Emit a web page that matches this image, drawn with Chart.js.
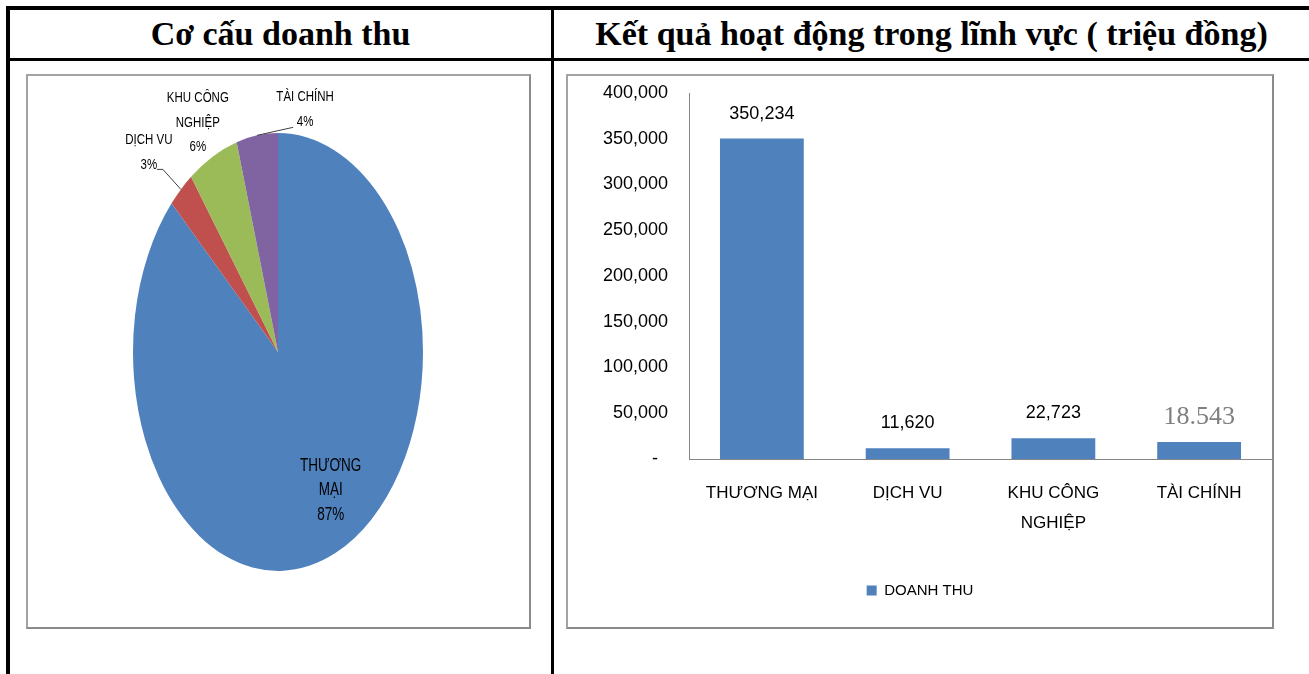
<!DOCTYPE html>
<html lang="vi">
<head>
<meta charset="utf-8">
<title>Cơ cấu doanh thu</title>
<script src="https://cdn.jsdelivr.net/npm/chart.js@4.4.1/dist/chart.umd.min.js"></script>
<style>
  html, body { margin: 0; padding: 0; background: #fff; }
  body { width: 1309px; height: 674px; position: relative; overflow: hidden; }
  .rule { position: absolute; background: #000; }
  .head {
    position: absolute; top: 10px; height: 48px;
    font: bold 34px 'Liberation Serif', 'Times New Roman', serif;
    line-height: 48px; text-align: center; white-space: nowrap; color: #000;
  }
  .frame {
    position: absolute; top: 74px; width: 0; height: 551px;
    border: 2px solid #a3a3a3; border-right-color: #8a8a8a; border-bottom-color: #8a8a8a;
    background: #fff;
  }
  .frame canvas { display: block; }
</style>
</head>
<body>

<!-- table lines -->
<div class="rule" style="left:6px; top:6px; width:1303px; height:4px"></div>
<div class="rule" style="left:6px; top:6px; width:4px; height:668px"></div>
<div class="rule" style="left:6px; top:58px; width:1303px; height:3px"></div>
<div class="rule" style="left:551px; top:6px; width:3px; height:668px"></div>

<div class="head" style="left:10px; width:541px">Cơ cấu doanh thu</div>
<div class="head" style="left:554px; width:755px">Kết quả hoạt động trong lĩnh vực ( triệu đồng)</div>

<div class="frame" style="left:26px; width:501px"><canvas id="pieChart"></canvas></div>
<div class="frame" style="left:566px; width:704px"><canvas id="barChart"></canvas></div>

<script>
// ============================================
//  Cơ cấu doanh thu + Kết quả hoạt động
// ============================================

// ── Data ─────────────────────────────────────
const sectors     = ['THƯƠNG MẠI', 'DỊCH VU', 'KHU CÔNG NGHIỆP', 'TÀI CHÍNH'];
const barLabels   = ['THƯƠNG MẠI', 'DỊCH VU', ['KHU CÔNG', 'NGHIỆP'], 'TÀI CHÍNH'];
const revenue     = [350234, 11620, 22723, 18543];            // triệu đồng
const revenueText = ['350,234', '11,620', '22,723', '18.543']; // as printed above the bars
const pieNames    = [['THƯƠNG', 'MẠI'], ['DỊCH VU'], ['KHU CÔNG', 'NGHIỆP'], ['TÀI CHÍNH']];
const piePercent  = ['87%', '3%', '6%', '4%'];
const seriesName  = 'DOANH THU';
const yMin = 0, yMax = 400000, yStep = 50000;

// ── Styles ───────────────────────────────────
const BLUE       = '#4f81bd';
const pieColors  = ['#4f81bd', '#c0504d', '#9bbb59', '#8064a2'];
const PIE_STRETCH = 1.51;          // the pie is drawn as a tall ellipse
const FONT = "'Liberation Sans', Arial, sans-serif";

// label placement relative to the middle of each slice's outer edge
const pieLabelStyle = [
  { rf: 0.7, dx: 12,  dy: -2,  size: 13.5 },
  { rf: 1,   dx: -32, dy: -37, size: 11.5, leader: [[14, 17], [8, 17]] },
  { rf: 1,   dx: -15, dy: -34, size: 11.5 },
  { rf: 1,   dx: 48,  dy: -26, size: 11.5, leader: [[-12, 18]] }
];

Chart.defaults.font.family = FONT;
Chart.defaults.color = '#000';
Chart.defaults.animation = false;

// squeeze the round pie into an ellipse while the arcs are painted
const ellipsePlugin = {
  id: 'ellipse',
  beforeDatasetsDraw(chart) {
    const { ctx, chartArea: a } = chart;
    const cx = (a.left + a.right) / 2, cy = (a.top + a.bottom) / 2;
    ctx.save();
    ctx.translate(cx, cy);
    ctx.scale(1, PIE_STRETCH);
    ctx.translate(-cx, -cy);
  },
  afterDatasetsDraw(chart) {
    chart.ctx.restore();
  }
};

// tall, narrow text like the original picture
function stretchedText(ctx, text, x, y, size) {
  ctx.save();
  ctx.translate(x, y);
  ctx.scale(1, 1.3);
  ctx.font = size + 'px ' + FONT;
  ctx.fillText(text, 0, 0);
  ctx.restore();
}

const pieLabelPlugin = {
  id: 'pieLabels',
  afterDraw(chart) {
    const ctx = chart.ctx;
    const arcs = chart.getDatasetMeta(0).data;
    ctx.save();
    ctx.fillStyle = '#000';
    ctx.strokeStyle = '#404040';
    ctx.lineWidth = 1;
    ctx.textAlign = 'center';
    ctx.textBaseline = 'middle';

    arcs.forEach((arc, i) => {
      const p   = arc.getProps(['x', 'y', 'startAngle', 'endAngle', 'outerRadius']);
      const st  = pieLabelStyle[i];
      const mid = (p.startAngle + p.endAngle) / 2;
      const ax  = p.x + Math.cos(mid) * p.outerRadius * st.rf;
      const ay  = p.y + Math.sin(mid) * p.outerRadius * st.rf * PIE_STRETCH;
      const cx  = ax + st.dx;
      const cy  = ay + st.dy;

      const lines = pieNames[i].concat(piePercent[i]);
      const step  = 24.5;
      const top   = cy - (lines.length - 1) * step / 2;
      lines.forEach((t, k) => stretchedText(ctx, t, cx, top + k * step, st.size));

      if (st.leader) {
        ctx.beginPath();
        ctx.moveTo(ax, ay);
        st.leader.forEach(([lx, ly]) => ctx.lineTo(cx + lx, cy + ly));
        ctx.stroke();
      }
    });
    ctx.restore();
  }
};

// value labels above the bars
const barValuePlugin = {
  id: 'barValues',
  afterDatasetsDraw(chart) {
    const ctx = chart.ctx;
    const bars = chart.getDatasetMeta(0).data;
    ctx.save();
    ctx.textAlign = 'center';
    ctx.textBaseline = 'middle';
    bars.forEach((bar, i) => {
      if (i === 3) {
        // this one was typed in a separate text box
        ctx.font = '26px "Liberation Serif", "Times New Roman", serif';
        ctx.fillStyle = '#7f7f7f';
      } else {
        ctx.font = '18px ' + FONT;
        ctx.fillStyle = '#000';
      }
      ctx.fillText(revenueText[i], bar.x, bar.y - 25);
    });
    ctx.restore();
  }
};

// ── Pie: Cơ cấu doanh thu ────────────────────
new Chart(document.getElementById('pieChart'), {
  type: 'pie',
  data: {
    labels: sectors,
    datasets: [{
      data: revenue,
      backgroundColor: pieColors,
      borderWidth: 0
    }]
  },
  options: {
    responsive: true,
    maintainAspectRatio: false,
    clip: false,
    layout: { padding: { left: 105, right: 106, top: 131, bottom: 130 } },
    plugins: {
      legend: { display: false },
      tooltip: { enabled: false }
    }
  },
  plugins: [ellipsePlugin, pieLabelPlugin]
});

// ── Bar: Kết quả hoạt động ───────────────────
new Chart(document.getElementById('barChart'), {
  type: 'bar',
  data: {
    labels: barLabels,
    datasets: [{
      label: seriesName,
      data: revenue,
      backgroundColor: BLUE,
      barPercentage: 0.575,
      categoryPercentage: 1
    }]
  },
  options: {
    responsive: true,
    maintainAspectRatio: false,
    layout: { padding: { top: 17, right: 0, bottom: 19, left: 0 } },
    plugins: {
      legend: {
        position: 'bottom',
        labels: { boxWidth: 10, boxHeight: 10, padding: 10, font: { size: 15 }, color: '#000' }
      },
      tooltip: { enabled: false }
    },
    scales: {
      x: {
        grid: { display: false, drawTicks: false },
        border: { display: true, color: '#868686', width: 1 },
        ticks: { padding: 19, font: { size: 17, lineHeight: '30px' }, color: '#000', maxRotation: 0, autoSkip: false },
        afterFit: s => { s.height = s.chart.height - 19 - (s.chart.legend ? s.chart.legend.height : 35) - 383; }
      },
      y: {
        min: yMin,
        max: yMax,
        grid: { display: false, drawTicks: false },
        border: { display: true, color: '#868686', width: 1 },
        ticks: {
          stepSize: yStep,
          padding: 21,
          font: { size: 18 },
          color: '#000',
          callback: v => v === 0 ? '-  ' : v.toLocaleString('en-US')
        },
        // fixed axis width; the tick padding must not push the plot down
        afterFit: s => { s.width = 121; s.paddingTop = 0; s.paddingBottom = 0; }
      }
    }
  },
  plugins: [barValuePlugin]
});
</script>
</body>
</html>
